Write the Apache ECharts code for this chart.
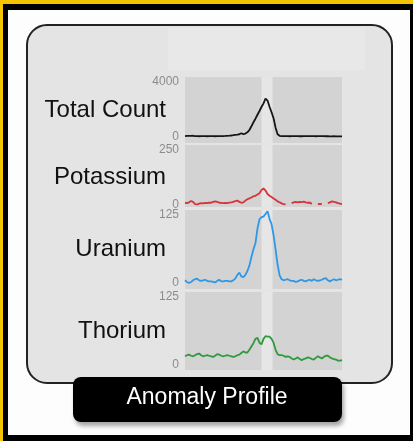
<!DOCTYPE html>
<html>
<head>
<meta charset="utf-8">
<title>Anomaly Profile</title>
<script src="https://cdn.jsdelivr.net/npm/echarts@6/dist/echarts.min.js"></script>
<style>
html, body { margin: 0; padding: 0; background: #000; }
#main { width: 413px; height: 441px; }
</style>
</head>
<body>
<div id="main"></div>
<script>
// 数据
var rowNames = ['Total Count', 'Potassium', 'Uranium', 'Thorium'];
var rowTops = [4000, 250, 125, 125];

var totalCount = [70, 80, 75, 85, 90, 70, 60, 55, 60, 65, 60, 55, 60, 65, 60, 55, 60, 65, 70, 70, 75, 85, 95, 110,
    130, 160, 170, 200, 270, 200,
    250, 340, 510, 780, 1070, 1330, 1620, 1890, 2180, 2450, 2800, 2650, 2200, 1800, 1360, 680, 200, 90, 70,
    65, 60, 60, 55, 60, 65, 60, 60, 55, 55, 60, 65, 70, 65, 60, 60, 55, 60, 60, 65, 60, 55, 55, 50, 50, 55, 50, 45, 45, 45];
var potassium = [8, 6, 10, 16, 12, 2, 0, 4, 6, 5, 7, 6, 9, 8, 12, 14, 12, 8, 7, 6,
    7, 6, 9, 10, 12, 16, 18, 12, 8, 10, 18, 24, 28, 32, 38, 40, 46, 52, 66, 74,
    64, 48, 40, 34, 28, 22, 14, 10, 5, 2, 0, null, null, 6, 10, 12, 10, 12, 11, 13,
    10, 8, 9, 2, null, null, 2, 3, 2, null, null, 6, 10, 14, 12, 10, 6, 4, 2];
var uranium = [5, 2, 0, 2, 5, 7, 8, 5, 4, 5, 6, 4, 3, 3, 2, 1, 4, 6, 3, 3,
    4, 4, 3, 3, 5, 8, 15, 19, 12, 11, 15, 22, 32, 48, 62, 73, 100, 117, 121, 122,
    127, 132, 118, 108, 88, 62, 34, 14, 7, 5, 6, 7, 5, 4, 4, 2, 3, 5, 6, 4,
    3, 5, 6, 4, 7, 5, 4, 5, 6, 8, 9, 5, 3, 5, 7, 5, 6, 7, 6];
var thorium = [16, 18, 19, 17, 16, 18, 20, 21, 18, 16, 17, 18, 17, 16, 15, 17, 20, 19, 17, 16,
    17, 18, 17, 16, 15, 16, 18, 19, 22, 25, 23, 23, 28, 34, 40, 48, 50, 41, 38, 48,
    53, 52, 52, 48, 41, 28, 20, 18, 18, 17, 15, 16, 15, 12, 10, 12, 14, 11, 9, 11,
    12, 14, 13, 11, 10, 13, 16, 14, 12, 15, 17, 17, 14, 12, 11, 10, 8, 8, 9];

var seriesData = [totalCount, potassium, uranium, thorium];
var lineColors = ['#151515', '#d6343a', '#2e98e6', '#2f9a3c'];

// 每一行的位置
var rows = [
    {top: 77, height: 66, min: -436, max: 4364, labelY: 110},
    {top: 145, height: 62, min: -11.5, max: 273, labelY: 177},
    {top: 210, height: 79, min: -11, max: 134.2, labelY: 249},
    {top: 292, height: 78, min: -9.2, max: 134.2, labelY: 331}
];

var font = '"Liberation Sans", Arial, sans-serif';
var lastIndex = totalCount.length - 1;

var grids = [], xAxes = [], yAxes = [], series = [];
var graphics = [
    {type: 'rect', z: -10, shape: {x: 0, y: 0, width: 413, height: 441}, style: {fill: '#000'}},
    {type: 'rect', z: -9, shape: {x: 0, y: 0, width: 413, height: 4}, style: {fill: '#f5c400'}},
    {type: 'rect', z: -9, shape: {x: 0, y: 0, width: 3, height: 441}, style: {fill: '#f5c400'}},
    {type: 'rect', z: -8, shape: {x: 8, y: 10, width: 402, height: 425}, style: {fill: '#fdfdfd'}},
    {type: 'rect', z: -7, shape: {x: 27, y: 25, width: 365, height: 358, r: 20},
        style: {fill: '#e4e4e4', stroke: '#222', lineWidth: 2}},
    {type: 'rect', z: -6, shape: {x: 168, y: 28, width: 197, height: 42}, style: {fill: '#e8e8e8'}},
    {type: 'rect', z: 50, shape: {x: 73, y: 377, width: 269, height: 45, r: 8},
        style: {fill: '#000', shadowBlur: 4, shadowOffsetX: 2, shadowOffsetY: 4, shadowColor: 'rgba(0,0,0,0.35)'}},
    {type: 'text', z: 51, x: 207, y: 398,
        style: {text: 'Anomaly Profile', fill: '#fff', font: '23px ' + font,
            textAlign: 'center', textVerticalAlign: 'middle', align: 'center', verticalAlign: 'middle'}}
];

rows.forEach(function (r, k) {
    grids.push({
        left: 185, right: 71, top: r.top, height: r.height,
        show: true, backgroundColor: '#d3d3d3', borderWidth: 0
    });
    xAxes.push({type: 'value', gridIndex: k, min: 0, max: lastIndex, show: false});
    yAxes.push({
        type: 'value', gridIndex: k, min: r.min, max: r.max,
        splitLine: {show: false}, axisLine: {show: false}, axisTick: {show: false},
        axisLabel: {
            customValues: [0, rowTops[k]], color: '#8c8c8c', fontSize: 12, margin: 6, fontFamily: font,
            formatter: function (v) { return String(v); }
        }
    });
    series.push({
        type: 'line', xAxisIndex: k, yAxisIndex: k,
        data: seriesData[k].map(function (v, i) { return [i, v]; }),
        symbol: 'none', connectNulls: false,
        lineStyle: {color: lineColors[k], width: 1.8},
        markArea: {
            silent: true,
            itemStyle: {color: '#e6e6e6', opacity: 1},
            data: [[{xAxis: 38}, {xAxis: 43.5}]]
        }
    });
    graphics.push({
        type: 'text', z: 20, x: 166, y: r.labelY,
        style: {text: rowNames[k], fill: '#111', font: '24px ' + font,
            textAlign: 'right', textVerticalAlign: 'middle', align: 'right', verticalAlign: 'middle'}
    });
});

var myChart = echarts.init(document.getElementById('main'));
myChart.setOption({
    animation: false,
    graphic: {elements: graphics},
    grid: grids,
    xAxis: xAxes,
    yAxis: yAxes,
    series: series
});
</script>
</body>
</html>
